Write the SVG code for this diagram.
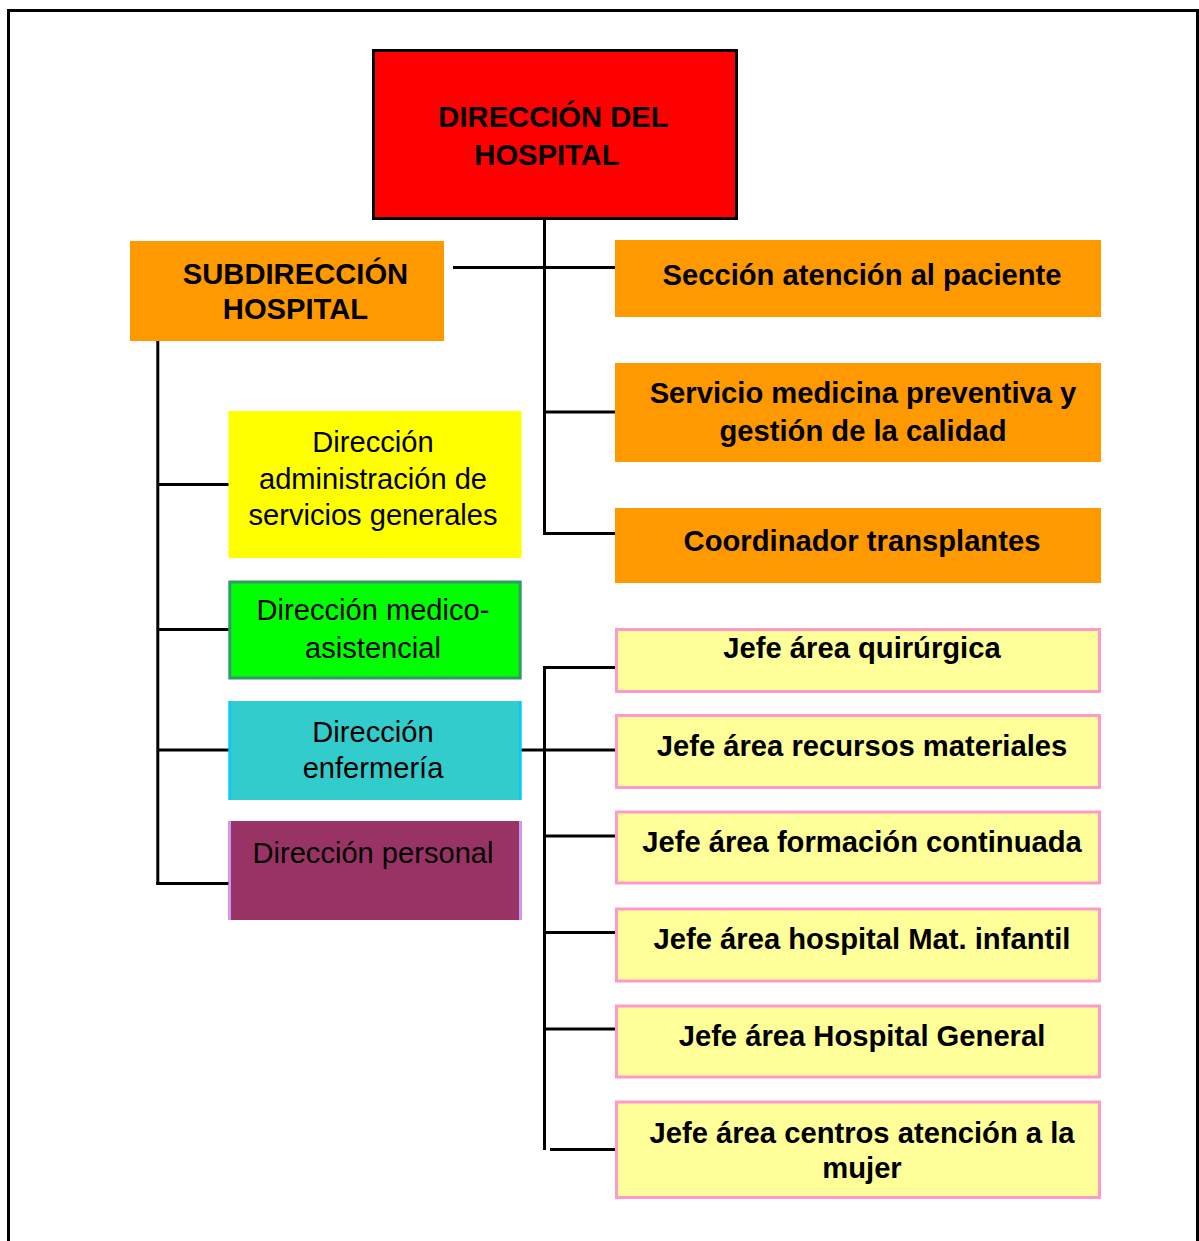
<svg xmlns="http://www.w3.org/2000/svg" width="1199" height="1241" viewBox="0 0 1199 1241">
<style>
.b{font-family:"Liberation Sans",Arial,sans-serif;font-weight:bold;font-size:29.2px;fill:#000;text-anchor:middle}
.r{font-family:"Liberation Sans",Arial,sans-serif;font-size:29.1px;fill:#000;text-anchor:middle}
.ln{stroke:#000;stroke-width:3;fill:none}
.or{fill:#FF9900}
.jf{fill:#FFFF99;stroke:#FF99CC;stroke-width:3}
</style>
<rect width="1199" height="1241" fill="#fff"/>
<path d="M8.5,1241 V10.5 H1197.5 V1241" fill="none" stroke="#000" stroke-width="3"/>
<g id="connectors" class="ln">
<line x1="544.5" y1="220" x2="544.5" y2="535"/>
<line x1="453" y1="267.5" x2="615" y2="267.5"/>
<line x1="544.5" y1="412" x2="615" y2="412"/>
<line x1="543" y1="533.5" x2="615" y2="533.5"/>
<line x1="157.8" y1="340" x2="157.8" y2="885"/>
<line x1="157.8" y1="484.5" x2="230" y2="484.5"/>
<line x1="157.8" y1="629.5" x2="230" y2="629.5"/>
<line x1="157.8" y1="750" x2="230" y2="750"/>
<line x1="156.3" y1="883.5" x2="230" y2="883.5"/>
<line x1="544.5" y1="666" x2="544.5" y2="1150"/>
<line x1="543" y1="667.5" x2="615" y2="667.5"/>
<line x1="521" y1="750" x2="615" y2="750"/>
<line x1="544.5" y1="836" x2="615" y2="836"/>
<line x1="544.5" y1="932.5" x2="615" y2="932.5"/>
<line x1="544.5" y1="1029" x2="615" y2="1029"/>
<line x1="550" y1="1149.5" x2="615" y2="1149.5"/>
</g>
<g id="direccion-hospital">
<rect x="373.5" y="50.5" width="363" height="168" fill="#FF0000" stroke="#000" stroke-width="3"/>
<text class="b" x="553.5" y="127">DIRECCIÓN DEL</text>
<text class="b" x="547" y="165">HOSPITAL</text>
</g>
<g id="subdireccion">
<rect class="or" x="130" y="241" width="314" height="100"/>
<text class="b" x="295.5" y="284">SUBDIRECCIÓN</text>
<text class="b" x="295.5" y="319">HOSPITAL</text>
</g>
<g id="seccion-atencion">
<rect class="or" x="615" y="240" width="486" height="77"/>
<text class="b" x="862" y="285">Sección atención al paciente</text>
</g>
<g id="servicio-medicina">
<rect class="or" x="615" y="363" width="486" height="99"/>
<text class="b" x="863" y="403">Servicio medicina preventiva y</text>
<text class="b" x="863" y="441">gestión de la calidad</text>
</g>
<g id="coordinador">
<rect class="or" x="615" y="508" width="486" height="75"/>
<text class="b" x="862" y="551">Coordinador transplantes</text>
</g>
<g id="dir-administracion">
<rect x="228.5" y="411" width="293" height="147" fill="#FFFF00"/>
<text class="r" x="373" y="451.5">Dirección</text>
<text class="r" x="373" y="489">administración de</text>
<text class="r" x="373" y="525">servicios generales</text>
</g>
<g id="dir-medico">
<rect x="229.8" y="582" width="290.4" height="96" fill="#00FF00" stroke="#339966" stroke-width="3"/>
<text class="r" x="373" y="620">Dirección medico-</text>
<text class="r" x="373" y="658">asistencial</text>
</g>
<g id="dir-enfermeria">
<rect x="228.5" y="701" width="293" height="99" fill="#33CCCC"/>
<rect x="228.5" y="701" width="2.5" height="99" fill="#00CCFF"/>
<rect x="519" y="701" width="2.5" height="99" fill="#00CCFF"/>
<text class="r" x="373" y="741.5">Dirección</text>
<text class="r" x="373" y="778">enfermería</text>
</g>
<g id="dir-personal">
<rect x="228.5" y="821" width="293" height="99" fill="#993366"/>
<rect x="228.5" y="821" width="2.5" height="99" fill="#CC99FF"/>
<rect x="519" y="821" width="2.5" height="99" fill="#CC99FF"/>
<text class="r" x="373" y="863">Dirección personal</text>
</g>
<g id="jefe-quirurgica">
<rect class="jf" x="616.5" y="629.5" width="483" height="62"/>
<text class="b" x="862" y="657.5">Jefe área quirúrgica</text>
</g>
<g id="jefe-recursos">
<rect class="jf" x="616.5" y="715.5" width="483" height="72"/>
<text class="b" x="862" y="756">Jefe área recursos materiales</text>
</g>
<g id="jefe-formacion">
<rect class="jf" x="616.5" y="812" width="483" height="71"/>
<text class="b" x="862" y="852">Jefe área formación continuada</text>
</g>
<g id="jefe-maternoinfantil">
<rect class="jf" x="616.5" y="909" width="483" height="72"/>
<text class="b" x="862" y="949">Jefe área hospital Mat. infantil</text>
</g>
<g id="jefe-general">
<rect class="jf" x="616.5" y="1006" width="483" height="71"/>
<text class="b" x="862" y="1046">Jefe área Hospital General</text>
</g>
<g id="jefe-mujer">
<rect class="jf" x="616.5" y="1102" width="483" height="95.5"/>
<text class="b" x="862" y="1143">Jefe área centros atención a la</text>
<text class="b" x="862" y="1178">mujer</text>
</g>
</svg>
